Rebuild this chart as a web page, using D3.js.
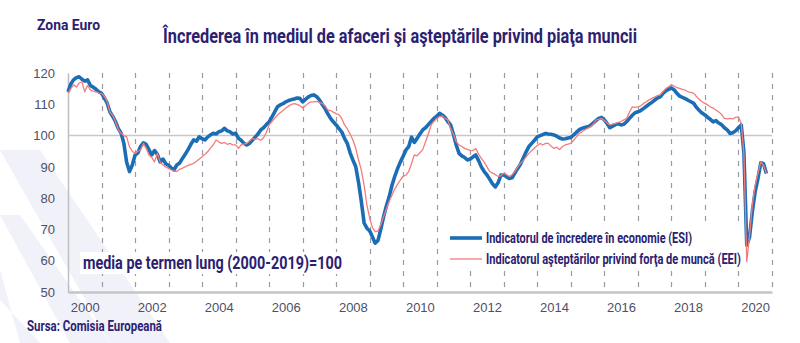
<!DOCTYPE html>
<html>
<head>
<meta charset="utf-8">
<script src="https://cdn.jsdelivr.net/npm/d3@7"></script>
<style>
  body { margin: 0; background: #fff; }
  svg { display: block; }
  .lbl { font-family: "Liberation Sans Narrow", "Liberation Sans", Arial, sans-serif; fill: #4d5166; font-size: 13px; }
  .navy { font-family: "Liberation Sans Narrow", Roboto, "Open Sans", sans-serif; font-weight: bold; fill: #2b2170; }
</style>
</head>
<body>
<svg id="chart" width="800" height="343"></svg>
<script>
// monthly values, Jan 2000 .. Nov 2020
var years = d3.range(2000, 2021);
var esi = [
  [114.0,116.5,117.8,118.5,118.8,118.0,117.4,117.8,116.0,115.5,114.8,114.0],
  [113.5,112.0,110.5,107.6,106.2,104.5,102.3,100.8,97.5,91.5,88.5,90.5],
  [93.8,94.5,96.5,97.7,97.2,95.5,93.8,95.2,94.0,91.6,92.5,91.0],
  [90.5,89.6,89.0,90.6,91.2,92.7,94.0,95.5,97.2,98.6,98.2,99.6],
  [99.0,98.6,99.5,100.2,100.7,100.5,101.2,101.5,102.3,101.5,101.2,100.5],
  [100.7,99.1,98.5,97.5,97.0,97.5,98.5,99.5,100.5,101.8,102.5,103.5],
  [104.4,106.0,107.5,109.2,109.8,110.2,110.8,111.2,111.5,111.7,112.0,111.9],
  [110.8,111.6,112.3,112.8,113.0,112.5,111.5,110.0,108.7,107.0,105.5,104.4],
  [103.4,102.2,101.2,99.1,97.5,94.5,92.2,90.1,85.0,79.0,72.0,70.4],
  [69.5,67.5,65.6,66.5,70.0,74.1,77.5,80.5,84.2,87.0,89.5,91.6],
  [93.5,95.5,96.4,99.5,97.8,99.1,100.5,101.8,102.5,103.5,104.5,105.5],
  [106.2,107.1,106.6,105.8,104.5,103.4,100.5,97.0,94.3,93.5,93.0,92.2],
  [92.5,93.2,93.8,92.0,90.0,88.5,87.4,86.0,84.5,83.6,85.0,87.4],
  [87.4,86.8,86.3,86.5,88.0,89.5,90.8,92.8,94.8,96.5,97.5,98.5],
  [99.6,100.0,100.3,100.7,100.5,100.4,100.2,99.8,99.2,98.9,99.0,99.2],
  [99.4,100.2,101.0,101.8,102.3,102.6,102.8,103.2,104.0,104.8,105.5,105.8],
  [105.0,103.8,102.5,103.0,103.5,103.8,103.4,103.6,104.5,105.5,106.5,107.3],
  [107.6,108.0,108.6,109.3,110.0,110.6,111.3,112.0,112.4,113.5,114.3,114.8],
  [115.2,114.6,113.5,112.6,112.2,111.8,111.3,110.8,110.3,109.0,108.0,107.2],
  [106.6,105.8,105.2,104.4,104.8,104.0,103.5,102.5,101.8,100.7,100.9,101.5],
  [102.5,103.4,94.5,65.0,67.5,75.7,82.0,86.3,91.3,91.0,87.9]
];
var eei = [
  [113.5,115.0,116.2,115.5,116.8,117.2,114.0,116.0,114.6,114.2,114.0,113.6],
  [113.5,112.5,111.0,107.5,106.5,104.5,102.0,100.7,100.0,99.6,96.4,95.0],
  [94.3,95.0,95.4,97.5,96.0,93.8,93.0,91.6,94.3,91.5,90.6,90.0],
  [89.5,89.0,88.7,88.5,89.2,89.6,90.0,90.5,90.8,91.1,91.8,92.5],
  [93.2,94.0,94.8,96.0,97.0,98.6,98.0,97.5,97.8,97.2,97.5,97.0],
  [97.0,95.9,97.0,97.3,97.5,98.3,99.1,98.8,99.0,98.5,99.3,101.0],
  [103.4,104.5,105.5,106.6,107.3,108.0,108.8,109.4,110.0,110.2,110.0,109.6],
  [108.8,109.5,110.3,110.8,110.8,110.9,110.6,110.3,109.5,108.2,108.0,107.5],
  [107.0,106.6,105.5,103.4,102.2,100.5,98.6,96.0,92.2,89.0,84.0,77.8],
  [73.5,70.4,69.3,69.5,71.5,74.1,76.5,79.0,81.0,83.0,84.5,85.8],
  [87.0,87.4,88.5,91.0,93.8,93.5,94.5,95.5,98.0,100.5,103.4,104.5],
  [105.5,106.0,106.3,105.5,105.0,102.3,100.5,98.0,97.0,96.5,95.9,95.6],
  [95.3,95.2,95.9,94.0,92.7,91.5,90.0,88.5,88.0,87.5,86.9,87.2],
  [88.0,87.5,86.9,87.5,88.5,90.0,91.1,92.0,93.2,94.3,95.2,96.0],
  [96.8,97.5,97.0,97.5,97.5,96.6,95.9,96.3,95.5,96.5,97.0,97.3],
  [97.5,98.5,99.5,100.7,101.2,101.8,102.3,102.8,103.5,104.9,105.2,105.5],
  [104.8,104.0,103.4,103.7,103.9,104.2,104.5,105.0,105.5,107.5,109.2,109.0],
  [109.2,109.5,110.2,110.8,111.4,111.9,112.3,112.8,113.0,114.0,115.0,115.6],
  [116.2,115.8,115.3,115.1,114.8,114.5,114.0,113.8,113.5,112.5,111.5,110.8],
  [110.3,109.8,109.2,108.8,108.2,107.5,106.8,105.5,105.3,105.5,105.3,105.8],
  [106.0,103.9,94.0,59.7,68.0,78.0,84.0,88.0,91.6,90.5,88.0]
];
var yTicks = [50, 60, 70, 80, 90, 100, 110, 120];
var xLabelYears = [2000, 2002, 2004, 2006, 2008, 2010, 2012, 2014, 2016, 2018, 2020];
var seriesNames = ["Indicatorul de încredere în economie (ESI)",
                   "Indicatorul aşteptărilor privind forţa de muncă (EEI)"];

function toPoints(rows) {
  var pts = [];
  rows.forEach(function(row, i) {
    row.forEach(function(v, m) { pts.push({date: new Date(years[i], m, 1), v: v}); });
  });
  return pts;
}
var esiPts = toPoints(esi), eeiPts = toPoints(eei);

var svg = d3.select("#chart");

// faint diagonal stripes in the background
var bg = svg.append("g");
[[[0,150],[40,150],[170,343],[110,343]], [[0,215],[20,215],[110,343],[70,343]], [[0,270],[0,300],[40,343],[20,343]]]
  .forEach(function(p) {
    bg.append("polygon").attr("points", p.join(" ")).attr("fill", "#eceef7").attr("opacity", 0.8);
  });

var x = d3.scaleTime().domain([new Date(2000, 0, 1), new Date(2021, 0, 1)]).range([68, 772]);
var y = d3.scaleLinear().domain([50, 120]).range([292, 73]);

// dashed year lines (snapped to the pixel grid so they stay crisp)
var grid = svg.append("g");
d3.range(2001, 2022).forEach(function(d) {
  var gx = Math.round(x(new Date(d, 0, 1))) + 0.5;
  grid.append("line")
    .attr("x1", gx).attr("x2", gx)
    .attr("y1", 73).attr("y2", 292)
    .style("stroke", "#9a9aa4").style("stroke-width", 1.2).style("stroke-dasharray", "5,6");
});

// white boxes behind the note and the legend hide the grid
svg.append("rect").attr("x", 80).attr("y", 252).attr("width", 266).attr("height", 22).attr("fill", "#fff");
svg.append("rect").attr("x", 446).attr("y", 227).attr("width", 300).attr("height", 39).attr("fill", "#fff");

// reference line at 100
svg.append("line")
  .attr("x1", x.range()[0]).attr("x2", x.range()[1])
  .attr("y1", y(100)).attr("y2", y(100))
  .attr("stroke", "#c8c8cc").attr("stroke-width", 1.5);

// axes
var yAxis = svg.append("g").attr("transform", "translate(68,0)")
  .call(d3.axisLeft(y).tickValues(yTicks).tickSize(0).tickPadding(13));
yAxis.select(".domain").attr("stroke", "#bdbdc4").attr("stroke-width", 1.5);
yAxis.selectAll("text").attr("class", "lbl").attr("font-family", null).attr("font-size", null).attr("fill", null);

var xAxis = svg.append("g").attr("transform", "translate(0,292)")
  .call(d3.axisBottom(x)
    .tickValues(xLabelYears.map(function(d) { return new Date(d, 6, 1); }))
    .tickFormat(d3.timeFormat("%Y")).tickSize(0).tickPadding(11));
xAxis.select(".domain").attr("stroke", "#c4c4ca").attr("stroke-width", 2.5);
xAxis.selectAll("text").attr("class", "lbl").attr("font-family", null).attr("font-size", null).attr("fill", null);

// series
var line = d3.line().x(function(d) { return x(d.date); }).y(function(d) { return y(d.v); });
svg.append("path").datum(esiPts).attr("d", line)
  .attr("fill", "none").attr("stroke", "#1b6db5").attr("stroke-width", 3.6).attr("stroke-linejoin", "round");
svg.append("path").datum(eeiPts).attr("d", line)
  .attr("fill", "none").attr("stroke", "#f47c7c").attr("stroke-width", 1.3).attr("stroke-linejoin", "round");

// legend
var legend = [{c: "#1b6db5", w: 3.6, y: 238, tw: 206}, {c: "#f47c7c", w: 1.3, y: 259, tw: 255}];
legend.forEach(function(l, i) {
  svg.append("line").attr("x1", 450).attr("x2", 482).attr("y1", l.y).attr("y2", l.y)
    .attr("stroke", l.c).attr("stroke-width", l.w);
  svg.append("text").attr("class", "navy").attr("x", 486).attr("y", l.y + 5)
    .attr("font-size", 14).attr("textLength", l.tw).attr("lengthAdjust", "spacingAndGlyphs")
    .text(seriesNames[i]);
});

// texts
svg.append("text").attr("class", "navy").attr("x", 37).attr("y", 30).attr("font-size", 15)
  .attr("textLength", 63).attr("lengthAdjust", "spacingAndGlyphs").text("Zona Euro");
svg.append("text").attr("class", "navy").attr("x", 163).attr("y", 43).attr("font-size", 20)
  .attr("textLength", 474).attr("lengthAdjust", "spacingAndGlyphs")
  .text("Încrederea în mediul de afaceri şi aşteptările privind piaţa muncii");
svg.append("text").attr("class", "navy").attr("x", 83).attr("y", 269).attr("font-size", 18)
  .attr("textLength", 259).attr("lengthAdjust", "spacingAndGlyphs")
  .text("media pe termen lung (2000-2019)=100");
svg.append("text").attr("class", "navy").attr("x", 27).attr("y", 331).attr("font-size", 14)
  .attr("textLength", 135).attr("lengthAdjust", "spacingAndGlyphs")
  .text("Sursa: Comisia Europeană");
</script>
</body>
</html>
